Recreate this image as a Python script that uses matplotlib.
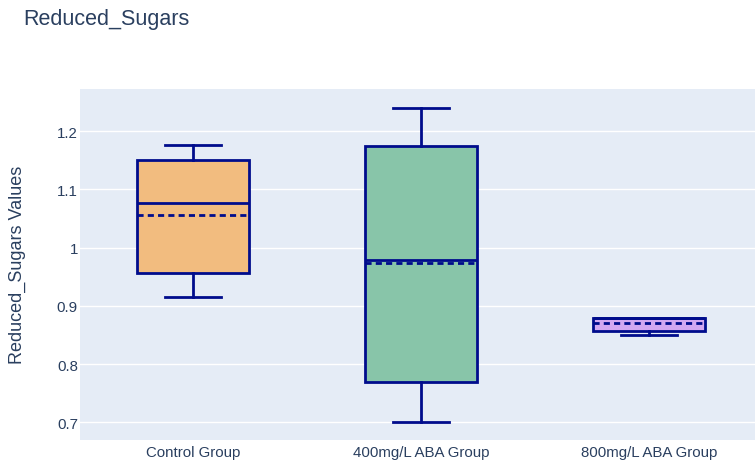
import numpy as np
import matplotlib
matplotlib.use('Agg')
from matplotlib import pyplot as plt

#%% Data: box statistics per group
groups = ['Control Group', '400mg/L ABA Group', '800mg/L ABA Group']
whislo = [0.916, 0.700, 0.850]
q1 = [0.957, 0.770, 0.857]
med = [1.076, 0.978, 0.880]
mean = [1.056, 0.974, 0.870]
q3 = [1.151, 1.174, 0.880]
whishi = [1.177, 1.240, 0.880]

fills = ['#F2BC7F', '#88C5A9', '#D3A8F2']
line_col = '#000C8C'
text_col = '#2a3f5f'

stats = []
for i in range(len(groups)):
    stats.append(dict(label=groups[i], whislo=whislo[i], q1=q1[i], med=med[i],
                      mean=mean[i], q3=q3[i], whishi=whishi[i], fliers=[]))

#%% Plotting
plt.rcParams['font.family'] = ['Liberation Sans', 'DejaVu Sans']

fig = plt.figure(figsize=(7.55, 4.64), dpi=100)
ax = fig.add_axes([80/755, 1 - 440.7/464, 675/755, 350.7/464])
ax.set_facecolor('#E5ECF6')

bp = ax.bxp(stats, positions=np.arange(len(groups)), widths=0.49,
            patch_artist=True, showmeans=True, meanline=True,
            showfliers=False,
            boxprops=dict(edgecolor=line_col, linewidth=2),
            medianprops=dict(color=line_col, linewidth=2),
            meanprops=dict(color=line_col, linewidth=2, linestyle=(0, (2.2, 1.5))),
            whiskerprops=dict(color=line_col, linewidth=2),
            capprops=dict(color=line_col, linewidth=2),
            capwidths=0.245)
for patch, c in zip(bp['boxes'], fills):
    patch.set_facecolor(c)

ax.set_xlim(-0.496, 2.465)
ax.set_ylim(0.670, 1.2727)
ax.set_yticks([0.7, 0.8, 0.9, 1.0, 1.1, 1.2])
ax.set_yticklabels(['0.7', '0.8', '0.9', '1', '1.1', '1.2'])
ax.grid(axis='y', color='white', linewidth=1)
ax.set_axisbelow(True)
for s in ax.spines.values():
    s.set_visible(False)
ax.tick_params(axis='both', length=0, labelsize=10.8, labelcolor=text_col)
ax.tick_params(axis='y', pad=1.5)
ax.tick_params(axis='x', pad=4)

ax.set_ylabel('Reduced_Sugars Values', fontsize=13, color=text_col)
ax.yaxis.label.set_va('center')
ax.yaxis.set_label_coords(-0.092, 0.5)
fig.text(23/755, 1 - 20/464, 'Reduced_Sugars', fontsize=15.5, color=text_col,
         ha='left', va='center')

fig.savefig('out.png', dpi=100)
